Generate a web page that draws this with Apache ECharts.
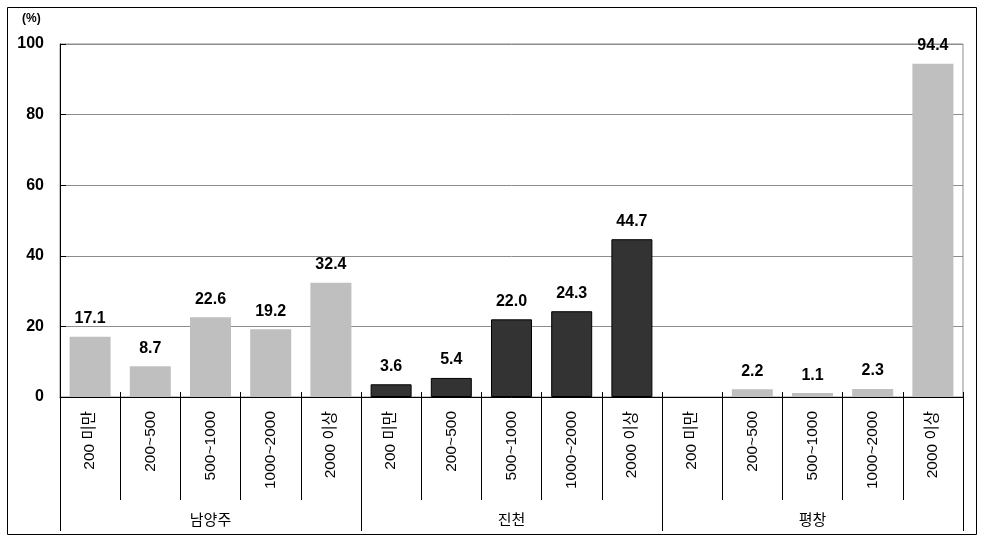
<!DOCTYPE html>
<html>
<head>
<meta charset="utf-8">
<script src="https://cdn.jsdelivr.net/npm/echarts@6/dist/echarts.min.js"></script>
<style>
html,body{margin:0;padding:0;background:#fff;}
#c{width:984px;height:548px;}
</style>
</head>
<body>
<div id="c"></div>
<script>
const groups = ['남양주', '진천', '평창'];
const bands = ['200 미만', '200~500', '500~1000', '1000~2000', '2000 이상'];
const valuesNamyangju = [17.1, 8.7, 22.6, 19.2, 32.4];
const valuesJincheon = [3.6, 5.4, 22.0, 24.3, 44.7];
const valuesPyeongchang = [null, 2.2, 1.1, 2.3, 94.4];
const yTicks = [0, 20, 40, 60, 80, 100];

const groupValues = [valuesNamyangju, valuesJincheon, valuesPyeongchang];
const groupStyles = [
  {color: '#BFBFBF'},
  {color: '#333333', borderColor: '#000000', borderWidth: 1},
  {color: '#BFBFBF'}
];
const categories = [];
const seriesData = [];
groupValues.forEach((vals, gi) => {
  vals.forEach((v, bi) => {
    categories.push(bands[bi]);
    seriesData.push({value: v === null ? '-' : v, itemStyle: groupStyles[gi]});
  });
});

const FONT = '"Liberation Sans", Arial, "Noto Sans CJK KR", sans-serif';
const chart = echarts.init(document.getElementById('c'));
chart.setOption({
  animation: false,
  backgroundColor: '#ffffff',
  graphic: [{
    type: 'rect', left: 5, top: 5, z: 100,
    shape: {width: 969, height: 527},
    style: {fill: null, stroke: '#000', lineWidth: 1}
  }, {
    type: 'text', left: 22, top: 13,
    style: {text: '(%)', font: 'bold 12px ' + FONT, fill: '#000'}
  }],
  grid: {left: 60, right: 21, top: 44, bottom: 151, show: true, borderColor: '#8c8c8c', borderWidth: 1, containLabel: false, outerBoundsMode: 'none'},
  yAxis: {
    type: 'value', min: 0, max: 100, interval: 20,
    axisLine: {show: true, lineStyle: {color: '#000', width: 1}},
    axisTick: {show: true, inside: true, length: 6, lineStyle: {color: '#000'}},
    axisLabel: {margin: 16, color: '#000', fontSize: 16, fontWeight: 'bold', fontFamily: FONT,
      formatter: v => yTicks.includes(v) ? String(v) : ''},
    splitLine: {show: true, lineStyle: {color: '#8c8c8c', width: 1}}
  },
  xAxis: [{
    type: 'category', data: categories, position: 'bottom',
    axisLine: {show: true, lineStyle: {color: '#000', width: 1}},
    axisTick: {show: true, interval: 0, length: 103, lineStyle: {color: '#000'}},
    axisLabel: {interval: 0, rotate: 90, margin: 14, color: '#000', fontSize: 15.5, fontFamily: FONT},
    splitLine: {show: false}
  }, {
    type: 'category', data: categories, position: 'bottom',
    axisLine: {show: false},
    axisTick: {show: true, inside: true, interval: 0, length: 5, lineStyle: {color: '#000'}},
    axisLabel: {show: false},
    splitLine: {show: false}
  }, {
    type: 'category', data: groups, position: 'bottom',
    axisLine: {show: false},
    axisTick: {show: true, interval: 0, length: 134, lineStyle: {color: '#000'}},
    axisLabel: {interval: 0, margin: 115, color: '#000', fontSize: 15, fontFamily: '"Noto Sans CJK KR", sans-serif'},
    splitLine: {show: false}
  }],
  series: [{
    type: 'bar', xAxisIndex: 0, data: seriesData, barWidth: 41,
    label: {show: true, position: 'top', distance: 10, color: '#000', fontSize: 16, fontWeight: 'bold', fontFamily: FONT,
      formatter: p => (typeof p.value === 'number') ? p.value.toFixed(1) : ''}
  }]
});
</script>
</body>
</html>
